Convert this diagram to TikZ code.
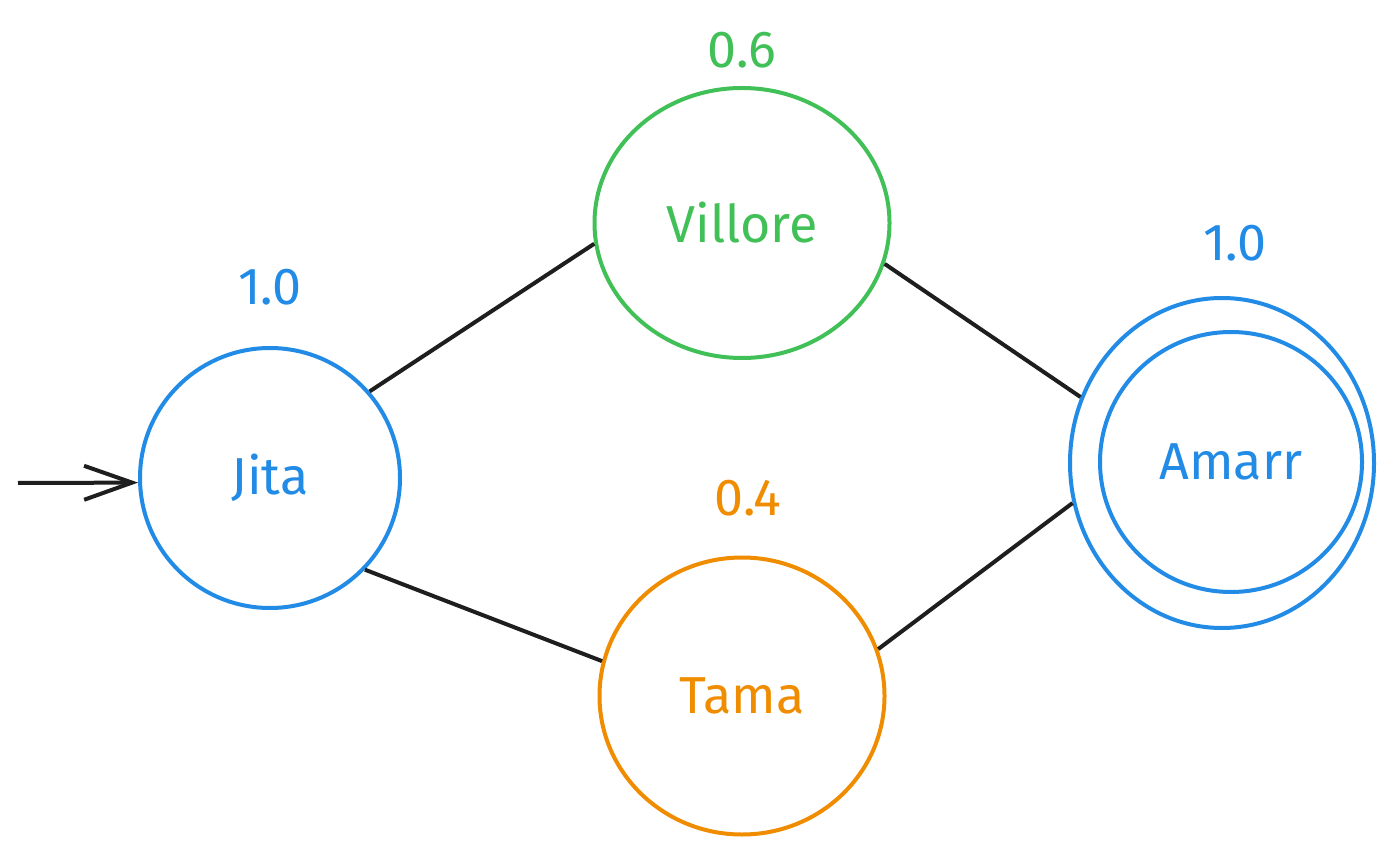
\documentclass[tikz,border=0pt]{standalone}
\usepackage{fontspec}
\setmainfont{Fira Sans}
\usetikzlibrary{shapes.geometric,arrows.meta}
\definecolor{eblue}{HTML}{228BE6}
\definecolor{egreen}{HTML}{40C057}
\definecolor{eorange}{HTML}{F08C00}
\definecolor{edark}{HTML}{1E1E1E}
\tikzset{
  state/.style={ellipse,draw,line width=2pt,inner sep=0pt,font=\fontsize{26}{30}\selectfont},
  prob/.style={font=\fontsize{26}{30}\selectfont},
  edge/.style={draw=edark,line width=2pt},
}
\begin{document}
\begin{tikzpicture}[x=0.5pt,y=-0.5pt]
\useasboundingbox (0,0) rectangle (1395,860);
\node[state,eblue,minimum width=130pt,minimum height=130pt] (Jita) at (270,478) {Jita};
\node[state,egreen,minimum width=147.5pt,minimum height=135pt] (Villore) at (742,223) {Villore};
\node[state,eorange,minimum width=142.5pt,minimum height=138.5pt] (Tama) at (742,696) {Tama};
\node[state,eblue,minimum width=152pt,minimum height=165pt] (Amarr) at (1222,463) {};
\node[state,draw=eblue,text=eblue,minimum width=131pt,minimum height=130pt] (AmarrIn) at (1231,462) {Amarr};
\node[prob,eblue] (pJ) at (270,287) {1.0};
\node[prob,egreen] (pV) at (742,50) {0.6};
\node[prob,eblue] (pA) at (1235,243) {1.0};
\node[prob,eorange] (pT) at (748,498) {0.4};
\coordinate (start) at (18,483);
\draw[edark,line width=2pt,-{Straight Barb[length=24pt,width=17pt]}] (start) -- (Jita.182);
\draw[edge] (Jita.41) -- (Villore.188);
\draw[edge] (Villore.-16) -- (Amarr.155);
\draw[edge] (Jita.-44) -- (Tama.166);
\draw[edge] (Tama.19) -- (Amarr.195);
\end{tikzpicture}
\end{document}
